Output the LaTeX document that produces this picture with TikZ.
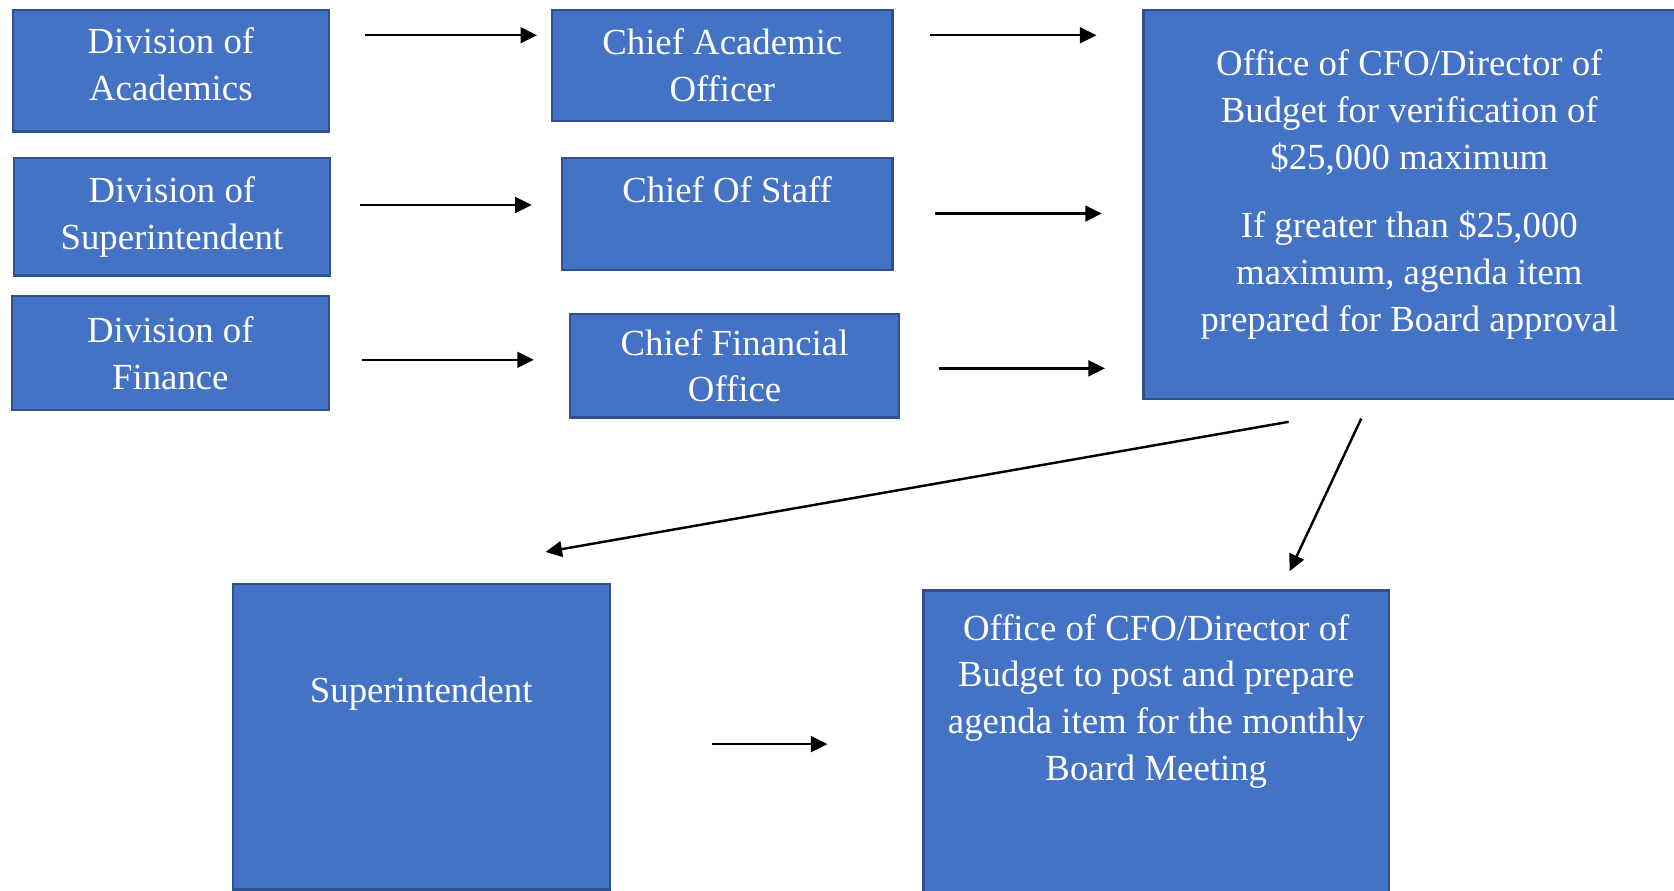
\documentclass[tikz,border=0pt]{standalone}
\usepackage{fontspec}
\setmainfont{Liberation Serif}
\usetikzlibrary{arrows.meta,calc}
\definecolor{boxblue}{RGB}{68,114,196}
\definecolor{boxline}{RGB}{47,82,143}
\tikzset{
	box/.style={draw=boxline, fill=boxblue, line width=0.6pt, anchor=north west, inner sep=0pt},
	txt/.style={text=white, align=center, font=\fontsize{9.8}{12.5}\selectfont},
	arr/.style={-{Triangle[length=4.4pt, width=4.2pt]}, line width=0.65pt, black}
}

\begin{document}
\begin{tikzpicture}
		\useasboundingbox (0, 0) rectangle (15.68, -8.34);

		% divisions
		\node[box, minimum width=2.96cm, minimum height=1.14cm] (acad) at (0.11, -0.08) {};
		\node[txt] (acadtxt) at ([yshift=-0.52cm]acad.north) {Division of\\Academics};
		\node[box, txt, minimum width=2.96cm, minimum height=1.10cm] (supdiv) at (0.12, -1.47) {Division of\\Superintendent};
		\node[box, txt, minimum width=2.97cm, minimum height=1.07cm] (fin) at (0.10, -2.76) {Division of\\Finance};

		% chiefs
		\node[box, txt, minimum width=3.19cm, minimum height=1.04cm] (cao) at (5.16, -0.08) {Chief Academic\\Officer};
		\node[box, minimum width=3.10cm, minimum height=1.05cm] (cos) at (5.25, -1.47) {};
		\node[txt] (costxt) at ([yshift=-0.31cm]cos.north) {Chief Of Staff};
		\node[box, txt, minimum width=3.08cm, minimum height=0.97cm] (cfo) at (5.33, -2.93) {Chief Financial\\Office};

		% budget office
		\node[box, minimum width=4.98cm, minimum height=3.65cm] (bud) at (10.70, -0.08) {};
		\node[txt] (budtxt) at ([yshift=-1.74cm]bud.north) {Office of CFO/Director of\\Budget for verification of\\\$25,000 maximum\\[0.2cm]If greater than \$25,000\\maximum, agenda item\\prepared for Board approval};

		% bottom row
		\node[box, minimum width=3.53cm, minimum height=2.86cm] (sup) at (2.17, -5.46) {};
		\node[txt] (suptxt) at ([yshift=-1.04cm]sup.north) {Superintendent};
		\node[box, minimum width=4.36cm, minimum height=2.95cm] (post) at (8.64, -5.52) {};
		\node[txt] (posttxt) at ([yshift=-1.05cm]post.north) {Office of CFO/Director of\\Budget to post and prepare\\agenda item for the monthly\\Board Meeting};

		\draw[arr] ($(acad.north east)+(0.33,-0.25)$) -- ($(cao.north west)+(-0.13,-0.25)$);
		\draw[arr] ($(supdiv.north east)+(0.27,-0.45)$) -- ($(cos.north west)+(-0.27,-0.45)$);
		\draw[arr] ($(fin.north east)+(0.30,-0.61)$) -- ($(cfo.north west)+(-0.33,-0.44)$);

		\draw[arr] ($(cao.north east)+(0.34,-0.25)$) -- ($(bud.north west)+(-0.43,-0.25)$);
		\draw[arr] ($(cos.north east)+(0.39,-0.53)$) -- ($(bud.north west)+(-0.38,-1.92)$);
		\draw[arr] ($(cfo.north east)+(0.36,-0.52)$) -- ($(bud.north west)+(-0.35,-3.37)$);

		\draw[arr] ($(bud.south west)+(1.37,-0.20)$) -- ($(sup.north west)+(2.94,0.29)$);
		\draw[arr] ($(bud.south west)+(2.05,-0.17)$) -- ($(post.north west)+(3.44,0.17)$);
		\draw[arr] ($(sup.north east)+(0.95,-1.51)$) -- ($(post.north west)+(-0.89,-1.45)$);
	\end{tikzpicture}
\end{document}
